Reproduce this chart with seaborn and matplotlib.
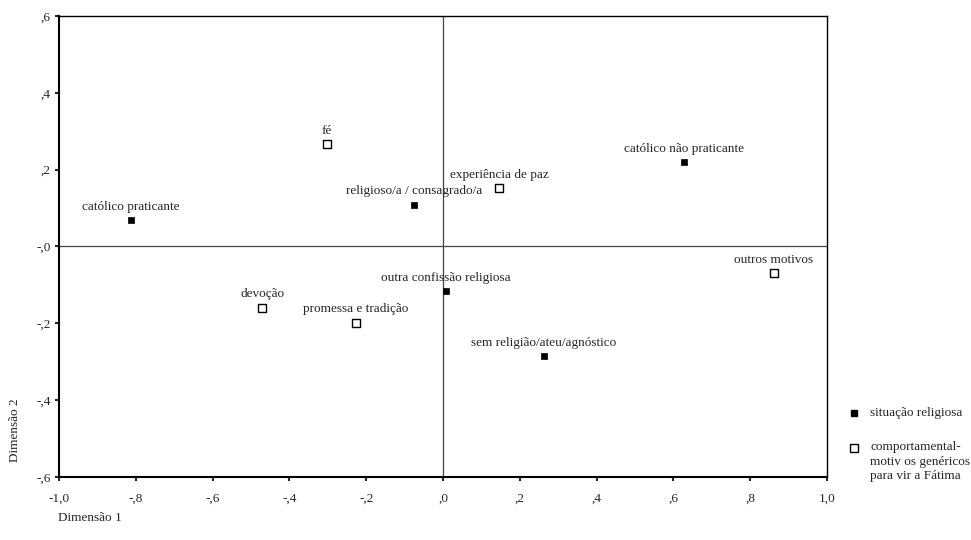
import matplotlib
matplotlib.use("Agg")
import matplotlib.pyplot as plt
import seaborn as sns
import pandas as pd
from matplotlib.lines import Line2D

sns.set_style("white")
plt.rcParams['font.family'] = ['Liberation Serif', 'DejaVu Serif']

# situação religiosa (filled squares)
sit_labels = ["católico praticante", "religioso/a / consagrado/a", "católico não praticante",
              "outra confissão religiosa", "sem religião/ateu/agnóstico"]
sit_dim1 = [-0.812, -0.076, 0.628, 0.008, 0.263]
sit_dim2 = [0.068, 0.109, 0.219, -0.117, -0.286]

# motivos genéricos (open squares)
mot_labels = ["fé", "experiência de paz", "outros motivos", "devoção", "promessa e tradição"]
mot_dim1 = [-0.302, 0.146, 0.862, -0.471, -0.227]
mot_dim2 = [0.266, 0.151, -0.070, -0.159, -0.198]

tick_vals_x = [-1.0, -0.8, -0.6, -0.4, -0.2, 0.0, 0.2, 0.4, 0.6, 0.8, 1.0]
tick_labs_x = ["-1,0", "-,8", "-,6", "-,4", "-,2", ",0", ",2", ",4", ",6", ",8", "1,0"]
tick_vals_y = [0.6, 0.4, 0.2, 0.0, -0.2, -0.4, -0.6]
tick_labs_y = [",6", ",4", ",2", "-,0", "-,2", "-,4", "-,6"]

sit = pd.DataFrame({"d1": sit_dim1, "d2": sit_dim2, "label": sit_labels})
mot = pd.DataFrame({"d1": mot_dim1, "d2": mot_dim2, "label": mot_labels})

FS = 9.5

fig = plt.figure(figsize=(9.71, 5.40), dpi=100)
ax = fig.add_axes([0.0608, 0.1167, 0.7909, 0.8537])

ax.axhline(0, color="#444444", lw=0.9, zorder=1)
ax.axvline(0, color="#444444", lw=0.9, zorder=1)

sns.scatterplot(data=sit, x="d1", y="d2", marker="s", s=14, color="black",
                edgecolor="black", linewidth=0.5, ax=ax, zorder=3, legend=False)
sns.scatterplot(data=mot, x="d1", y="d2", marker="s", s=26, color="white",
                edgecolor="black", linewidth=1.0, ax=ax, zorder=3, legend=False)

for df in (sit, mot):
    for _, r in df.iterrows():
        ax.annotate(r["label"], (r["d1"], r["d2"]), xytext=(0, 5.5), textcoords="offset points",
                    ha="center", va="bottom", fontsize=FS)

ax.set_xlim(-1.0, 1.0)
ax.set_ylim(-0.6, 0.6)
ax.set_xticks(tick_vals_x)
ax.set_xticklabels(tick_labs_x)
ax.set_yticks(tick_vals_y)
ax.set_yticklabels(tick_labs_y)
ax.tick_params(axis="both", direction="out", length=3, width=1.5, labelsize=FS,
               bottom=True, left=True)
ax.tick_params(axis="x", pad=8)
ax.tick_params(axis="y", pad=3)
for sp in ax.spines.values():
    sp.set_color("black")
    sp.set_linewidth(1.0)
ax.spines["left"].set_linewidth(1.5)
ax.spines["bottom"].set_linewidth(1.5)
ax.set_xlabel("")
ax.set_ylabel("")

fig.text(15 / 971, 1 - 430 / 540, "Dimensão 2", rotation=90, ha="center", va="center", fontsize=FS)
fig.text(58 / 971, 1 - 518 / 540, "Dimensão 1", ha="left", va="center", fontsize=FS)

# legend
fig.add_artist(Line2D([854 / 971], [1 - 413 / 540], marker="s", markersize=4, color="black",
                      markeredgecolor="black", linestyle="none"))
fig.text(870 / 971, 1 - 413 / 540, "situação religiosa", ha="left", va="center", fontsize=FS)
fig.add_artist(Line2D([854 / 971], [1 - 448 / 540], marker="s", markersize=5.5, markerfacecolor="white",
                      markeredgecolor="black", markeredgewidth=1.0, linestyle="none"))
fig.text(870 / 971, 1 - 441 / 540, "comportamental-\nmotiv os genéricos\npara vir a Fátima",
         ha="left", va="top", fontsize=FS, linespacing=1.3)

fig.savefig("out.png", dpi=100)
